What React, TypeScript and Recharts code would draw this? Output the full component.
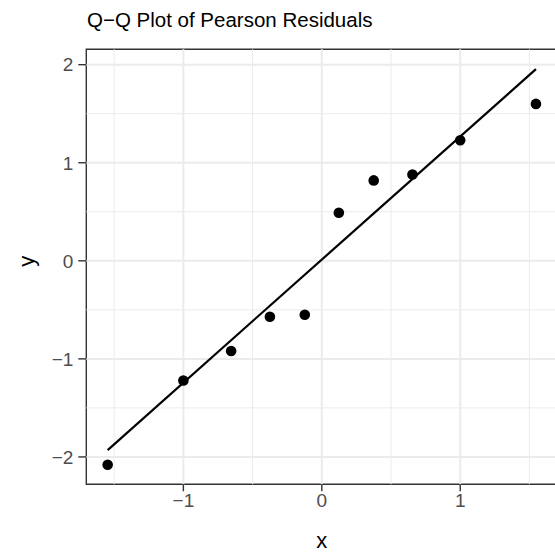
import { ScatterChart, Scatter, XAxis, YAxis, ReferenceLine, ReferenceArea, Label } from 'recharts'

// theoretical normal quantiles (ppoints, n = 10) and observed Pearson residuals
const theoretical = [-1.547, -1.0, -0.655, -0.375, -0.123, 0.123, 0.375, 0.655, 1.0, 1.547]
const residuals = [-2.08, -1.22, -0.92, -0.57, -0.55, 0.49, 0.82, 0.88, 1.23, 1.6]

// reference line end points (qq line)
const lineX = [-1.547, 1.547]
const lineY = [-1.93, 1.955]

const xTicks = [-1, 0, 1]
const yTicks = [-2, -1, 0, 1, 2]
const xMinor = [-1.5, -0.5, 0.5, 1.5]
const yMinor = [-1.5, -0.5, 0.5, 1.5]

const xDomain: [number, number] = [-1.7013, 1.7013]
const yDomain: [number, number] = [-2.279, 2.157]

const points = theoretical.map((x, i) => ({ x, y: residuals[i] }))
const qqLine = lineX.map((x, i) => ({ x, y: lineY[i] }))

const FONT = '"Liberation Sans", Arial, Helvetica, sans-serif'
const GRID = '#EBEBEB'
const INK = '#333333'

const minus = (v: number) => (v < 0 ? '−' + Math.abs(v) : String(v))

const Dot = (props: any) => <circle cx={props.cx} cy={props.cy} r={5.3} fill="#000" />

export default function App() {
  return (
    <div
      style={{
        position: 'absolute',
        left: 0,
        top: 0,
        width: 555,
        height: 559,
        overflow: 'hidden',
        background: '#fff',
        fontFamily: FONT,
      }}
    >
      <div
        style={{
          position: 'absolute',
          left: 87,
          top: 10,
          fontSize: 20.5,
          lineHeight: 1,
          color: '#000',
          whiteSpace: 'nowrap',
        }}
      >
        Q−Q Plot of Pearson Residuals
      </div>
      <ScatterChart
        width={600}
        height={559}
        margin={{ top: 49.3, right: 42.7, bottom: 0, left: 0 }}
        style={{ position: 'absolute', left: 0, top: 0, fontFamily: FONT }}
      >
        <XAxis
          type="number"
          dataKey="x"
          domain={xDomain}
          ticks={xTicks}
          allowDataOverflow
          height={74.7}
          axisLine={false}
          tickSize={7}
          tickMargin={2}
          tick={{ fill: '#4D4D4D', fontSize: 19 }}
          tickLine={{ stroke: INK, strokeWidth: 1.4 }}
          tickFormatter={minus}
        >
          <Label value="x" position="insideBottom" offset={11} style={{ fill: '#000', fontSize: 22 }} />
        </XAxis>
        <YAxis
          type="number"
          dataKey="y"
          domain={yDomain}
          ticks={yTicks}
          allowDataOverflow
          width={86.3}
          axisLine={false}
          tickSize={8}
          tickMargin={5}
          tick={{ fill: '#4D4D4D', fontSize: 19 }}
          tickLine={{ stroke: INK, strokeWidth: 1.4 }}
          tickFormatter={minus}
        >
          <Label value="y" angle={-90} position="insideLeft" offset={26} style={{ fill: '#000', fontSize: 22 }} />
        </YAxis>

        {xMinor.map((v) => (
          <ReferenceLine key={'xm' + v} x={v} stroke={GRID} strokeWidth={1} />
        ))}
        {yMinor.map((v) => (
          <ReferenceLine key={'ym' + v} y={v} stroke={GRID} strokeWidth={1} />
        ))}
        {xTicks.map((v) => (
          <ReferenceLine key={'xM' + v} x={v} stroke={GRID} strokeWidth={2} />
        ))}
        {yTicks.map((v) => (
          <ReferenceLine key={'yM' + v} y={v} stroke={GRID} strokeWidth={2} />
        ))}

        <Scatter
          data={qqLine}
          line={{ stroke: '#000', strokeWidth: 2.2 }}
          lineType="joint"
          shape={() => <g />}
          isAnimationActive={false}
        />
        <Scatter data={points} fill="#000" shape={Dot} isAnimationActive={false} />

        <ReferenceArea
          x1={xDomain[0]}
          x2={xDomain[1]}
          y1={yDomain[0]}
          y2={yDomain[1]}
          fill="none"
          stroke={INK}
          strokeWidth={1.4}
        />
      </ScatterChart>
    </div>
  )
}
